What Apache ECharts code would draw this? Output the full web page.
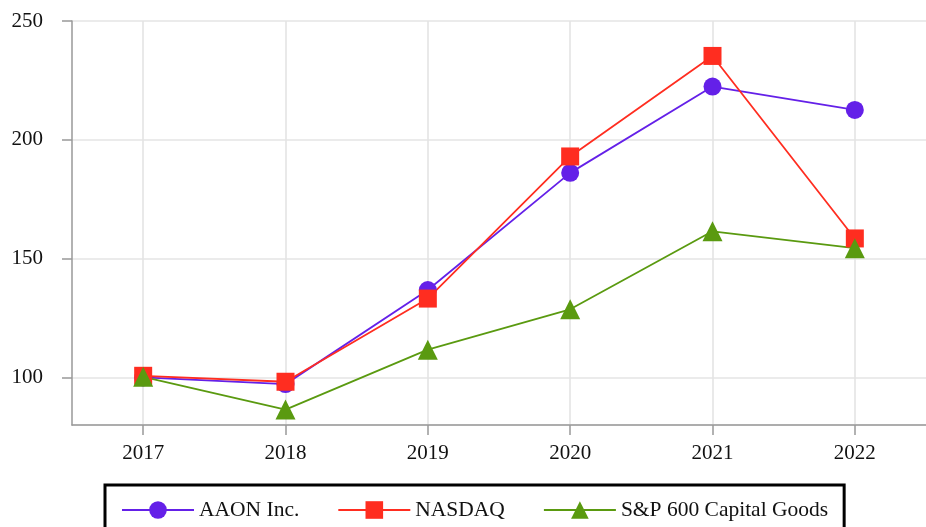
<!DOCTYPE html>
<html>
<head>
<meta charset="utf-8">
<script src="https://cdn.jsdelivr.net/npm/echarts@6/dist/echarts.min.js"></script>
<style>html,body{margin:0;padding:0;background:#fff;}#c{width:926px;height:527px;}</style>
</head>
<body>
<div id="c"></div>
<script>
const categories = ['2017', '2018', '2019', '2020', '2021', '2022'];
const seriesNames = ['AAON Inc.', 'NASDAQ', 'S&P 600 Capital Goods'];
const aaon = [100, 97.2, 136.8, 186.1, 222.4, 212.6];
const nasdaq = [100.7, 98.2, 133.2, 193.0, 235.3, 158.5];
const sp600 = [100.3, 86.5, 111.7, 128.7, 161.5, 154.4];

const font = 'Liberation Serif';
const chart = echarts.init(document.getElementById('c'), null, {renderer: 'canvas'});
function mk(name, data, color, symbol, size) {
  return {
    name: name, type: 'line', data: data, symbol: symbol, symbolSize: size,
    lineStyle: {color: color, width: 1.8}, itemStyle: {color: color},
    emphasis: {disabled: true}, animation: false
  };
}
chart.setOption({
  animation: false,
  textStyle: {fontFamily: font},
  grid: {left: 72, right: -10, top: 21, bottom: 102, containLabel: false},
  legend: {
    left: 105, top: 485, orient: 'horizontal',
    padding: [14, 16, 14, 16],
    borderColor: '#000', borderWidth: 3,
    itemWidth: 72, itemHeight: 22, itemGap: 38,
    textStyle: {fontFamily: font, fontSize: 21.5, color: '#111'},
    data: seriesNames
  },
  xAxis: {
    type: 'category', data: categories, boundaryGap: true,
    axisLine: {lineStyle: {color: '#999', width: 1.5}},
    axisTick: {show: true, alignWithLabel: true, length: 10, lineStyle: {color: '#999', width: 1.5}},
    splitLine: {show: true, alignWithLabel: true, lineStyle: {color: '#e4e4e4', width: 1.6}},
    axisLabel: {fontFamily: font, fontSize: 21, color: '#111', margin: 18}
  },
  yAxis: {
    type: 'value', min: 80, max: 250, splitNumber: 4,
    axisLine: {show: true, lineStyle: {color: '#999', width: 1.5}},
    axisTick: {show: true, length: 10, lineStyle: {color: '#999', width: 1.5}},
    splitLine: {show: true, lineStyle: {color: '#e4e4e4', width: 1.6}},
    axisLabel: {fontFamily: font, fontSize: 21, color: '#111', margin: 29, showMinLabel: false}
  },
  series: [
    mk(seriesNames[0], aaon, '#6420e8', 'circle', 18),
    mk(seriesNames[1], nasdaq, '#ff2d20', 'rect', 18),
    mk(seriesNames[2], sp600, '#5a9a10', 'triangle', 20)
  ]
});
</script>
</body>
</html>
